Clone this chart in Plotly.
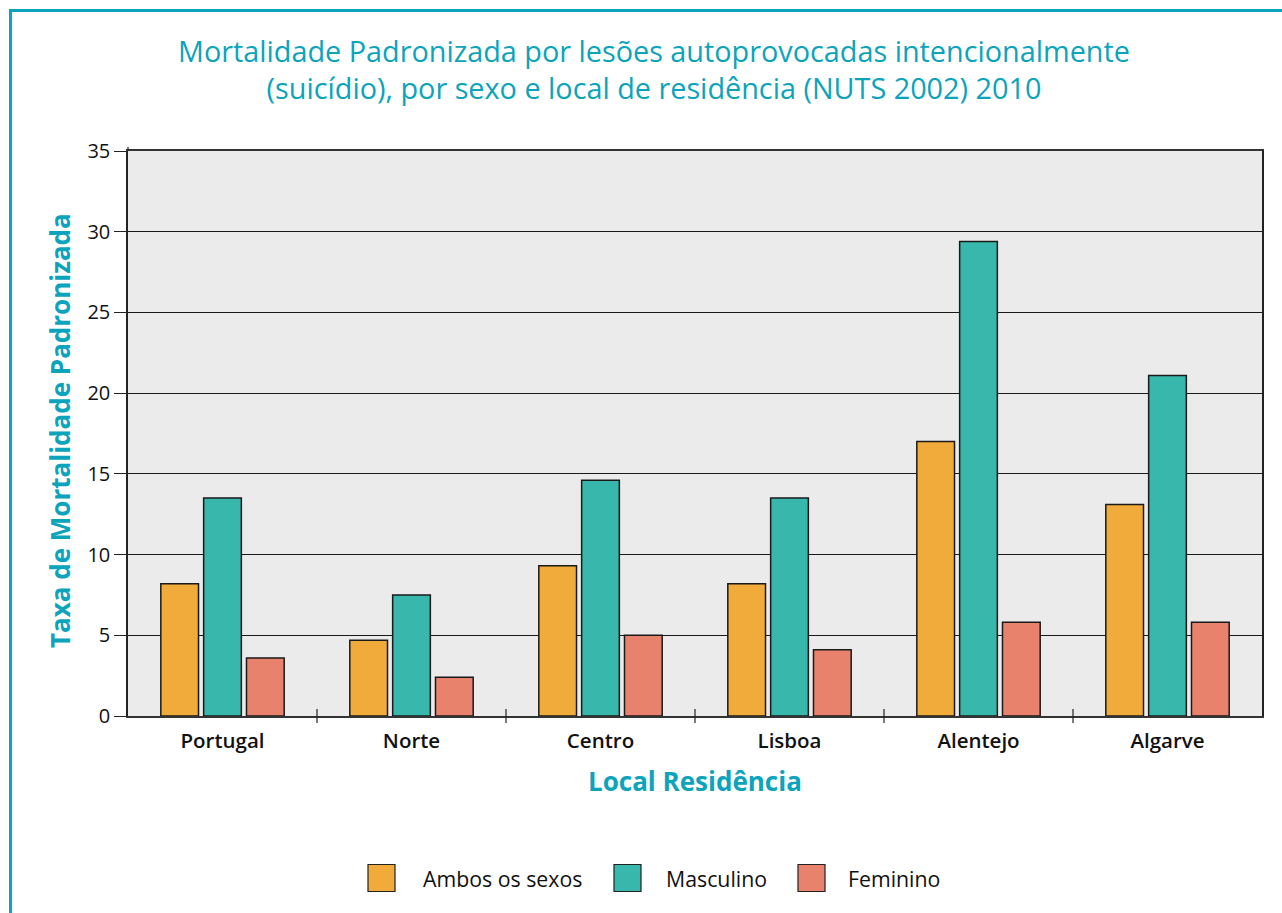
import plotly.graph_objects as go

# ---- data ----
regions = ["Portugal", "Norte", "Centro", "Lisboa", "Alentejo", "Algarve"]
ambos = [8.2, 4.7, 9.3, 8.2, 17.0, 13.1]
masculino = [13.5, 7.5, 14.6, 13.5, 29.4, 21.1]
feminino = [3.6, 2.4, 5.0, 4.1, 5.8, 5.8]
series_names = ["Ambos os sexos", "Masculino", "Feminino"]
y_ticks = [0, 5, 10, 15, 20, 25, 30, 35]

colors = ["#F0AB3A", "#38B7AC", "#E8826C"]
teal = "#0BA4BC"
font_family = "Open Sans, Noto Sans, sans-serif"

W, H = 1282, 913
L, R, T, B = 128, 20, 151, 197
PW, PH = W - L - R, H - T - B


def px2x(px):
    return (px - L) / PW


def py2y(py):
    return (H - B - py) / PH


fig = go.Figure()
for name, vals, col in zip(series_names, [ambos, masculino, feminino], colors):
    fig.add_trace(go.Bar(
        x=regions, y=vals, name=name,
        marker=dict(color=col, line=dict(color="#1a1a1a", width=1.5)),
        showlegend=False,
    ))

shapes = []
# frame lines (teal) top & left
shapes.append(dict(type="line", xref="paper", yref="paper",
                   x0=px2x(10), x1=px2x(1290), y0=py2y(10.5), y1=py2y(10.5),
                   line=dict(color=teal, width=3)))
shapes.append(dict(type="line", xref="paper", yref="paper",
                   x0=px2x(10.5), x1=px2x(10.5), y0=py2y(9), y1=py2y(920),
                   line=dict(color=teal, width=3)))
# crossing category boundary ticks
for i in range(len(regions) - 1):
    shapes.append(dict(type="line", xref="x", yref="paper",
                       x0=i + 0.5, x1=i + 0.5, y0=py2y(723), y1=py2y(709),
                       line=dict(color="#222", width=1.2)))
# y axis line slightly above top
shapes.append(dict(type="line", xref="paper", yref="paper",
                   x0=0, x1=0, y0=1, y1=py2y(147),
                   line=dict(color="#222", width=1.2)))

# custom legend
annotations = []
box_left = [368, 614, 798]
text_left = [421, 664, 846]
box_size = 27
cy = 878
for name, col, bl, tl in zip(series_names, colors, box_left, text_left):
    shapes.append(dict(type="rect", xref="paper", yref="paper",
                       x0=px2x(bl), x1=px2x(bl + box_size),
                       y0=py2y(cy + box_size / 2), y1=py2y(cy - box_size / 2),
                       fillcolor=col, line=dict(color="#222", width=1.2)))
    annotations.append(dict(xref="paper", yref="paper", x=px2x(tl),
                            y=py2y(cy), xanchor="left", yanchor="middle",
                            text=name, showarrow=False,
                            font=dict(family=font_family, size=21.3, color="#111")))

# axis titles as annotations
annotations.append(dict(xref="paper", yref="paper", x=px2x(695), y=py2y(781),
                        xanchor="center", yanchor="middle", showarrow=False,
                        text="<b>Local Residência</b>",
                        font=dict(family=font_family, size=26, color=teal)))
annotations.append(dict(xref="paper", yref="paper", x=px2x(60), y=py2y(431),
                        xanchor="center", yanchor="middle", showarrow=False,
                        textangle=-90,
                        text="<b>Taxa de Mortalidade Padronizada</b>",
                        font=dict(family=font_family, size=26, color=teal)))

fig.update_layout(
    width=W, height=H,
    margin=dict(l=L, r=R, t=T, b=B),
    paper_bgcolor="white",
    plot_bgcolor="#EBEBEB",
    barmode="group",
    bargap=0.32,
    bargroupgap=0.12,
    title=dict(
        text="Mortalidade Padronizada por lesões autoprovocadas intencionalmente<br>(suicídio), por sexo e local de residência (NUTS 2002) 2010",
        x=654 / W, xanchor="center", y=1 - 62 / H, yanchor="middle",
        font=dict(family=font_family, size=28.8, color=teal, weight=500),
    ),
    font=dict(family=font_family),
    shapes=shapes,
    annotations=annotations,
)
fig.update_xaxes(
    showgrid=False, showline=True, mirror=True, linecolor="#333", linewidth=1.5,
    ticks="", ticklabelstandoff=6,
    tickfont=dict(family=font_family, size=20.5, color="#111", weight=600),
)
fig.update_yaxes(
    range=[0, 35], tickvals=y_ticks, showgrid=True, gridcolor="#1a1a1a", gridwidth=1.2,
    zeroline=False, showline=True, mirror=True, linecolor="#222", linewidth=1.5,
    ticks="outside", ticklen=12, tickcolor="#222", tickwidth=1,
    tickfont=dict(family=font_family, size=20, color="#111"),
)

fig.write_html("out.html", config={"displayModeBar": False},
               post_script="document.body.style.margin='0px';")
